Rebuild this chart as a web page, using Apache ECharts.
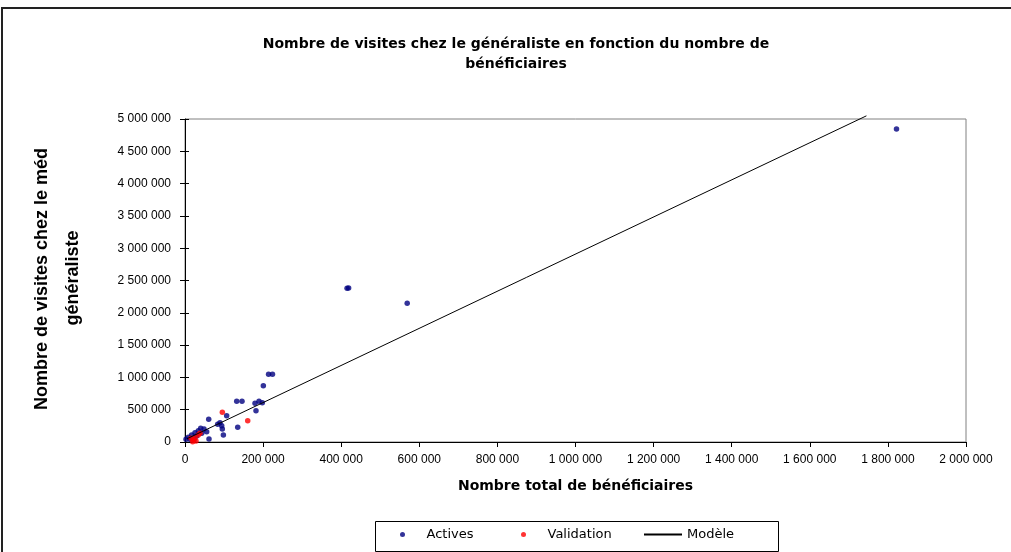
<!DOCTYPE html>
<html>
<head>
<meta charset="utf-8">
<script src="https://cdn.jsdelivr.net/npm/echarts@6/dist/echarts.min.js"></script>
<style>html,body{margin:0;padding:0;background:#fff;}#c{width:1011px;height:552px;}</style>
</head>
<body>
<div id="c"></div>
<script>
// ---- data ----
var activesX = [1822000, 415000, 419000, 569000, 214000, 224000, 200600, 132400, 146000, 179300, 189500, 198000, 181800, 106700, 60700, 89600, 83700, 94000, 95600, 135000, 98300, 61500, 48700, 40200, 34100, 25600, 17000, 8500, 2600, 12800, 30000, 42800, 55500, 23000];
var activesY = [4845000, 2380000, 2385000, 2147000, 1048000, 1048000, 871600, 630000, 630000, 599000, 630000, 608000, 485000, 407000, 351000, 299000, 274000, 252000, 201000, 227500, 108000, 46000, 201000, 212000, 175000, 144000, 108000, 73000, 42000, 42000, 93000, 135000, 160000, 31000];
var validationX = [95600, 160600, 21300, 25600, 19700, 34100, 15400, 28200, 38400];
var validationY = [460000, 330000, 31000, 67000, 5000, 108000, 57000, 15000, 135000];
var modelX = [5000, 1745000];
var modelY = [50000, 5049000];

var titleText = 'Nombre de visites chez le généraliste en fonction du nombre de\nbénéficiaires';
var xName = 'Nombre total de bénéficiaires';
var yNameLine1 = 'Nombre de visites chez le médecin';
var yNameLine2 = 'généraliste';
var seriesNames = ['Actives', 'Validation', 'Modèle'];

function pairs(xs, ys) { return xs.map(function (x, i) { return [x, ys[i]]; }); }
function fmt(v) { return String(v).replace(/\B(?=(\d{3})+(?!\d))/g, ' '); }

var chart = echarts.init(document.getElementById('c'), null, { renderer: 'canvas' });
var labelFont = { color: '#000', fontFamily: '"Liberation Sans", Arial, sans-serif', fontSize: 12 };

function legendAt(left, item) {
  return {
    left: left, top: 528, orient: 'horizontal', padding: 0,
    itemWidth: 38, itemHeight: 5, itemGap: 0,
    textStyle: { fontFamily: '"DejaVu Sans", sans-serif', fontSize: 13, color: '#000' },
    data: [item]
  };
}

chart.setOption({
  backgroundColor: '#fff',
  animation: false,
  title: {
    text: titleText,
    left: 516, top: 34, padding: 0,
    textAlign: 'center',
    textStyle: { fontFamily: '"DejaVu Sans", sans-serif', fontWeight: 'bold', fontSize: 14, lineHeight: 20, color: '#000' }
  },
  grid: { left: 185, top: 119, right: 45, bottom: 110, show: true, borderColor: '#808080', borderWidth: 1, backgroundColor: 'transparent' },
  xAxis: [{
    type: 'value', min: 0, max: 2000000, interval: 200000,
    name: xName, nameLocation: 'middle', nameGap: 37,
    nameTextStyle: { fontFamily: '"DejaVu Sans", sans-serif', fontWeight: 'bold', fontSize: 14, color: '#000' },
    axisLine: { show: true, lineStyle: { color: '#000', width: 1 } },
    axisTick: { show: true, length: 5, lineStyle: { color: '#000' } },
    axisLabel: Object.assign({ margin: 12, formatter: fmt }, labelFont),
    splitLine: { show: false }
  }],
  yAxis: [{
    type: 'value', min: 0, max: 5000000, interval: 500000,
    axisLine: { show: true, lineStyle: { color: '#000', width: 1 } },
    axisTick: { show: true, length: 5, lineStyle: { color: '#000' } },
    axisLabel: Object.assign({ margin: 14, formatter: fmt }, labelFont),
    splitLine: { show: false }
  }, {
    type: 'value', min: 0, max: 5000000, interval: 500000, position: 'left',
    axisLine: { show: false },
    axisTick: { show: true, inside: true, length: 4, lineStyle: { color: '#000' } },
    axisLabel: { show: false },
    splitLine: { show: false }
  }],
  legend: [
    legendAt(400, { name: seriesNames[0] }),
    legendAt(521, { name: seriesNames[1] }),
    legendAt(643, { name: seriesNames[2], itemStyle: { opacity: 0, borderWidth: 0 } })
  ],
  graphic: [
    { type: 'rect', silent: true, shape: { x: 2, y: 8, width: 1200, height: 800 }, style: { fill: 'none', stroke: '#222', lineWidth: 2 } },
    { type: 'rect', silent: true, z: -1, shape: { x: 375.5, y: 521.5, width: 403, height: 30 }, style: { fill: '#fff', stroke: '#000', lineWidth: 1 } },
    { type: 'text', x: 42, y: 410, rotation: Math.PI / 2,
      style: { text: yNameLine1, font: 'bold 18px "Liberation Sans", Arial, sans-serif', fill: '#000',
        textAlign: 'left', textVerticalAlign: 'middle', align: 'left', verticalAlign: 'middle',
        width: 266, overflow: 'truncate', ellipsis: '' } },
    { type: 'text', x: 73, y: 278, rotation: Math.PI / 2,
      style: { text: yNameLine2, font: 'bold 18px "Liberation Sans", Arial, sans-serif', fill: '#000',
        textAlign: 'center', textVerticalAlign: 'middle', align: 'center', verticalAlign: 'middle' } }
  ],
  series: [
    { name: seriesNames[0], type: 'scatter', data: pairs(activesX, activesY), symbol: 'circle', symbolSize: 5.5,
      itemStyle: { color: '#000080' } },
    { name: seriesNames[1], type: 'scatter', data: pairs(validationX, validationY), symbol: 'circle', symbolSize: 5.5,
      itemStyle: { color: '#ff0000' } },
    { name: seriesNames[2], type: 'line', data: pairs(modelX, modelY), symbol: 'none', showSymbol: false, clip: false,
      lineStyle: { color: '#000', width: 1 }, itemStyle: { color: '#000' } }
  ]
});
</script>
</body>
</html>
